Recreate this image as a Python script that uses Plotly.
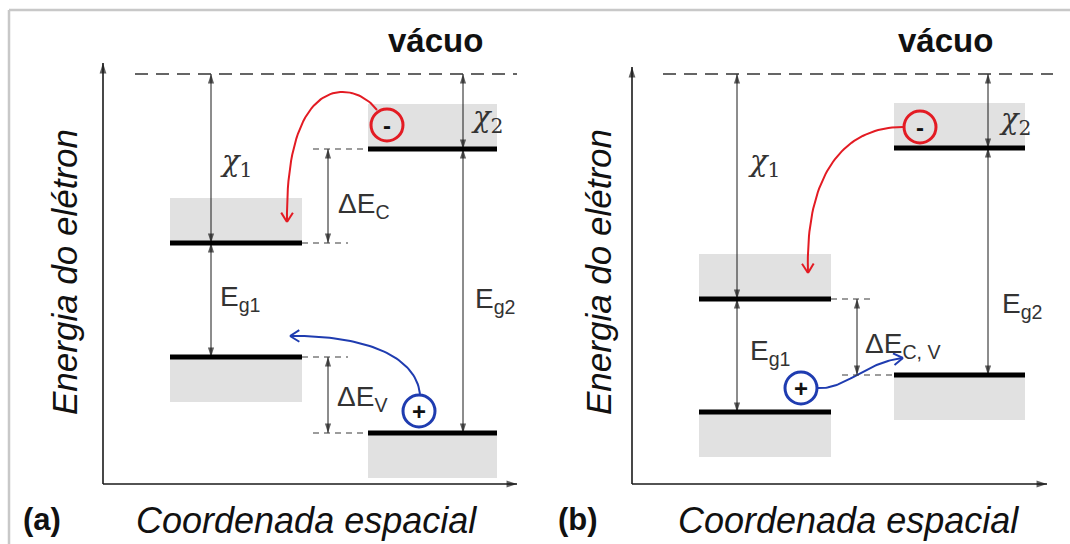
import math
import plotly.graph_objects as go

# ---------------- data (energies relative to vacuum level) ----------------
panels = ["(a)", "(b)"]
chi1 = [1.69, 2.25]      # electron affinity, material 1
chi2 = [0.75, 0.74]      # electron affinity, material 2
eg1 = [1.14, 1.13]       # band gap, material 1
eg2 = [2.84, 2.27]       # band gap, material 2
vacuum_label = "vácuo"
x_title = "Coordenada espacial"
y_title = "Energia do elétron"
offset_labels = [["ΔE<sub>C</sub>", "ΔE<sub>V</sub>"], ["ΔE<sub>C, V</sub>"]]

# ---------------- layout geometry (pixels along x, energy along y) ----------------
GEOM = [
    dict(ax_x=103, ax_end=517, ax_top=0.11, ax_bot=-4.10, vac=(135, 517),
         m1=(170, 302), m2=(368, 497), a1=211, a2=463, off=328,
         lab_chi1=(236, -0.89), lab_chi2=(487, -0.45), lab_eg1=(240, -2.24), lab_eg2=(495, -2.26),
         lab_off=[(364, -1.31), (362, -3.24)], lab_vac=(435, 0.34), lab_panel=(42, -4.45),
         lab_x=(306, -4.46), lab_y=(64, -1.98)),
    dict(ax_x=632, ax_end=1047, ax_top=0.07, ax_bot=-4.10, vac=(663, 1053),
         m1=(699, 831), m2=(894, 1025), a1=737, a2=988, off=857,
         lab_chi1=(764, -0.89), lab_chi2=(1015, -0.47), lab_eg1=(770, -2.78), lab_eg2=(1022, -2.31),
         lab_off=[(903, -2.71)], lab_vac=(945, 0.34), lab_panel=(578, -4.45),
         lab_x=(848, -4.46), lab_y=(598, -1.98)),
]
PX_PER_E = 100.0          # vertical pixels per energy unit (544 px / 5.44)
BOX_H = 0.45
GREY = "#e1e1e1"
TXT = "#333333"
RED = "#e31b23"
BLUE = "#1f3cb0"
FONT = "Liberation Sans, Arial, sans-serif"

fig = go.Figure()
shapes = []
annotations = []


def arrow_line(x0, y0, x1, y1, start=True, end=True, color="#1a1a1a", width=1, size=10):
    """straight line with 'arrow' markers (tip on the end points)"""
    dx = x1 - x0
    dy = (y1 - y0) * PX_PER_E
    ang_end = math.degrees(math.atan2(dx, dy))        # 0 = up, 90 = right
    ang_start = ang_end + 180
    fig.add_trace(go.Scatter(
        x=[x0, x1], y=[y0, y1], mode="lines+markers", hoverinfo="skip",
        line=dict(color=color, width=width),
        marker=dict(symbol="arrow", size=[size if start else 0, size if end else 0],
                    angle=[ang_start, ang_end], color=color, line=dict(width=0)),
    ))


def label(x, y, text, size=27, color=TXT, family=FONT, **kw):
    annotations.append(dict(x=x, y=y, xref="x", yref="y", text=text, showarrow=False,
                            font=dict(family=family, size=size, color=color), **kw))


def bezier(p0, p1, p2, p3, t):
    u = 1 - t
    return tuple(u**3 * a + 3 * u**2 * t * b + 3 * u * t**2 * c + t**3 * d
                 for a, b, c, d in zip(p0, p1, p2, p3))


def curve(p0, p1, p2, p3, color, n=50, wing=11, spread=32):
    pts = [bezier(p0, p1, p2, p3, k / n) for k in range(n + 1)]
    xs = [p[0] for p in pts]
    ys = [p[1] for p in pts]
    # V-shaped arrow head at the end (computed in screen pixels)
    q = bezier(p0, p1, p2, p3, 0.96)
    bx = q[0] - p3[0]
    by = -(q[1] - p3[1]) * PX_PER_E
    nrm = math.hypot(bx, by)
    bx, by = bx / nrm, by / nrm
    for sgn in (1, -1):
        a = math.radians(spread * sgn)
        wx = bx * math.cos(a) - by * math.sin(a)
        wy = bx * math.sin(a) + by * math.cos(a)
        xs += [None, p3[0], p3[0] + wing * wx]
        ys += [None, p3[1], p3[1] - wing * wy / PX_PER_E]
    fig.add_trace(go.Scatter(x=xs, y=ys, mode="lines", hoverinfo="skip",
                             line=dict(color=color, width=2)))


def carrier(x, y, sign, color):
    shapes.append(dict(type="circle", xref="x", yref="y", xsizemode="pixel", ysizemode="pixel",
                       xanchor=x, yanchor=y, x0=-16, x1=16, y0=-16, y1=16,
                       line=dict(color=color, width=3), fillcolor="rgba(255,255,255,0)"))
    label(x, y, f"<b>{sign}</b>", size=24, color="#111111")


def hdash(x0, x1, y, dash="6px,5px", width=1.2, color="#3a3a3a"):
    shapes.append(dict(type="line", xref="x", yref="y", x0=x0, x1=x1, y0=y, y1=y,
                       line=dict(color=color, width=width, dash=dash)))


for i, g in enumerate(GEOM):
    cb1, vb1 = -chi1[i], -(chi1[i] + eg1[i])
    cb2, vb2 = -chi2[i], -(chi2[i] + eg2[i])

    # grey band regions
    for (xa, xb), lvl, up in [(g["m1"], cb1, True), (g["m2"], cb2, True),
                              (g["m1"], vb1, False), (g["m2"], vb2, False)]:
        shapes.append(dict(type="rect", xref="x", yref="y", x0=xa, x1=xb,
                           y0=lvl, y1=lvl + (BOX_H if up else -BOX_H),
                           fillcolor=GREY, line=dict(width=0), layer="below"))

    # band edges
    for (xa, xb), lvl in [(g["m1"], cb1), (g["m2"], cb2), (g["m1"], vb1), (g["m2"], vb2)]:
        shapes.append(dict(type="line", xref="x", yref="y", x0=xa, x1=xb, y0=lvl, y1=lvl,
                           line=dict(color="#000000", width=5)))

    # vacuum level
    hdash(g["vac"][0], g["vac"][1], 0.0, dash="13px,8px", width=1.5, color="#333333")

    # axes
    arrow_line(g["ax_x"], g["ax_bot"], g["ax_x"], g["ax_top"], start=False, width=1.6, size=11)
    arrow_line(g["ax_x"], g["ax_bot"], g["ax_end"], g["ax_bot"], start=False, width=1.6, size=11)

    # vertical energy arrows
    arrow_line(g["a1"], 0.0, g["a1"], cb1)
    arrow_line(g["a1"], cb1, g["a1"], vb1)
    arrow_line(g["a2"], 0.0, g["a2"], cb2)
    arrow_line(g["a2"], cb2, g["a2"], vb2)

    off = g["off"]
    pairs = [(cb2, cb1), (vb1, vb2)] if i == 0 else [(cb1, vb2)]
    for (top, bot), txt, pos in zip(pairs, offset_labels[i], g["lab_off"]):
        arrow_line(off, top, off, bot)
        label(pos[0], pos[1], txt, size=28)
    # offset dashed extensions
    if i == 0:
        hdash(off - 15, g["m2"][0], cb2)
        hdash(g["m1"][1], off + 20, cb1)
        hdash(g["m1"][1], off + 20, vb1)
        hdash(off - 15, g["m2"][0], vb2)
    else:
        hdash(g["m1"][1], off + 18, cb1)
        hdash(off - 15, g["m2"][0], vb2)

    # labels
    label(*g["lab_chi1"], "<i>χ</i><sub>1</sub>", size=29, family="DejaVu Serif, serif")
    label(*g["lab_chi2"], "<i>χ</i><sub>2</sub>", size=29, family="DejaVu Serif, serif")
    label(*g["lab_eg1"], "E<sub>g1</sub>", size=28)
    label(*g["lab_eg2"], "E<sub>g2</sub>", size=28)
    label(*g["lab_vac"], f"<b>{vacuum_label}</b>", size=33, color="#111111")
    label(*g["lab_panel"], f"<b>{panels[i]}</b>", size=31, color="#111111")
    label(*g["lab_x"], f"<i>{x_title}</i>", size=36, color="#111111")
    label(*g["lab_y"], f"<i>{y_title}</i>", size=35, color="#111111", textangle=-90)

# carriers and transfer paths
carrier(387, -chi2[0] + 0.24, "-", RED)
curve((377, -0.36), (355, -0.06), (285, 0.04), (287, -1.48), RED)
carrier(419, -(chi2[0] + eg2[0]) + 0.22, "+", BLUE)
curve((420, -3.20), (415, -2.76), (350, -2.61), (290, -2.62), BLUE)
carrier(920, -chi2[1] + 0.21, "-", RED)
curve((903, -0.53), (840, -0.53), (805, -1.06), (808, -1.99), RED)
carrier(801, -(chi1[1] + eg1[1]) + 0.24, "+", BLUE)
curve((818, -3.14), (845, -3.16), (865, -2.88), (903, -2.84), BLUE)

# light frame of the original figure
shapes.append(dict(type="line", xref="paper", yref="paper", x0=9 / 1070, x1=1, y0=1 - 10 / 544, y1=1 - 10 / 544,
                   line=dict(color="#c8c8c8", width=2.5)))
shapes.append(dict(type="line", xref="paper", yref="paper", x0=9 / 1070, x1=9 / 1070, y0=0, y1=1 - 10 / 544,
                   line=dict(color="#c8c8c8", width=2.5)))

fig.update_layout(
    width=1070, height=544, margin=dict(l=0, r=0, t=0, b=0),
    paper_bgcolor="white", plot_bgcolor="white", showlegend=False,
    xaxis=dict(range=[0, 1070], visible=False, fixedrange=True),
    yaxis=dict(range=[-4.70, 0.74], visible=False, fixedrange=True),
    shapes=shapes, annotations=annotations,
)
fig.write_html("out.html")
